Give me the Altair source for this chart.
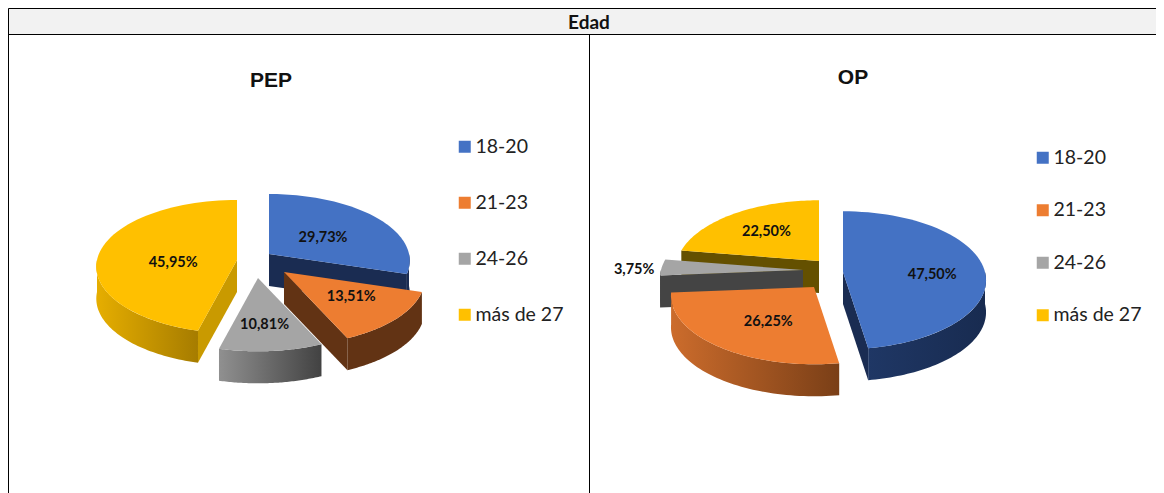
import math
import altair as alt
import pandas as pd

categories = ["18-20", "21-23", "24-26", "más de 27"]
colors = ["#4472C4", "#ED7D31", "#A5A5A5", "#FFC000"]
pep_values = [29.73, 13.51, 10.81, 45.95]
op_values = [47.50, 26.25, 3.75, 22.50]
pep_labels = ["29,73%", "13,51%", "10,81%", "45,95%"]
op_labels = ["47,50%", "26,25%", "3,75%", "22,50%"]
DEPTH = 32
X0, X1, Y0, Y1 = 8, 1156, 8, 493  # canvas span in picture coordinates


def solid(c):
    return (c, c)


PEP = dict(
    title="PEP", title_xy=(271, 81), rx=140, ry=66, p=0.1,
    values=pep_values, labels=pep_labels,
    apex=[(269, 254), (284, 272), (258, 278), (237, 260)],
    order=[0, 1, 2, 3],
    label_f=[(0.48, 0.46), (0.64, 0.53), (0.55, 0.68), (0.46, -0.12)],
    arc_wall=[solid("#1A2C52"), solid("#623314"), ("#909090", "#424242"), ("#E6AE00", "#A67C00")],
    edge_wall=["#1A2C52", "#623314", "#444444", "#C99A00"],
    legend_xy=(455, 137), row_pad=35,
)
OP = dict(
    title="OP", title_xy=(853, 78), rx=142, ry=68, p=0.12,
    values=op_values, labels=op_labels,
    apex=[(843, 272), (814, 287), (803, 270), (819, 261)],
    order=[3, 2, 1, 0],
    label_f=[(0.63, -0.2), (0.52, 0.62), (1.19, 0.8), (0.57, 0.6)],
    arc_wall=[("#1F3765", "#182B50"), ("#CC6C2C", "#7A3F17"), solid("#444444"), solid("#645000")],
    edge_wall=["#1A2C52", "#623314", "#444444", "#645000"],
    legend_xy=(1033, 148), row_pad=31.5,
)

xs = alt.X("x:Q", scale=alt.Scale(domain=[X0, X1], nice=False, zero=False), axis=None)
ys = alt.Y("y:Q", scale=alt.Scale(domain=[Y1, Y0], nice=False, zero=False), axis=None)


def proj(a, t, r, cfg):
    u, v = math.sin(t) * r, -math.cos(t) * r
    k = 1 / (1 - cfg["p"] * v)
    return a[0] + cfg["rx"] * u * k, a[1] + cfg["ry"] * v * k


def polygon_chart(pts, cfg, fill=None, cat=None):
    rows = [{"x": x, "y": y, "i": i, "cat": cat} for i, (x, y) in enumerate(pts + pts[:1])]
    if cat is None:
        return alt.Chart(pd.DataFrame(rows)).mark_line(fill=fill, strokeWidth=0, interpolate="linear").encode(
            x=xs, y=ys, order="i:Q")
    return alt.Chart(pd.DataFrame(rows)).mark_line(strokeWidth=0, interpolate="linear").encode(
        x=xs, y=ys, order="i:Q",
        fill=alt.Fill("cat:N", scale=alt.Scale(domain=categories, range=colors),
                      legend=alt.Legend(title=None, orient="none",
                                        legendX=cfg["legend_xy"][0] - X0,
                                        legendY=cfg["legend_xy"][1] - Y0,
                                        symbolType="square", symbolSize=144, symbolStrokeWidth=0,
                                        labelFont="Lato", labelFontSize=19.5, labelColor="#222222",
                                        labelOffset=1, rowPadding=cfg["row_pad"])))


def panel(cfg):
    layers = []
    total = sum(cfg["values"])
    edges = [0]
    for v in cfg["values"]:
        edges.append(edges[-1] + v / total * 2 * math.pi)
    for s in cfg["order"]:
        a, t0, t1 = cfg["apex"][s], edges[s], edges[s + 1]
        n = 60
        ang = [t0 + (t1 - t0) * i / n for i in range(n + 1)]
        arc = [proj(a, t, 1, cfg) for t in ang]
        # cut faces that look towards the viewer
        if -math.cos(t0 - math.pi / 2) > 0.02:
            c = arc[0]
            layers.append(polygon_chart([a, c, (c[0], c[1] + DEPTH), (a[0], a[1] + DEPTH)], cfg, fill=cfg["edge_wall"][s]))
        if -math.cos(t1 + math.pi / 2) > 0.02:
            c = arc[-1]
            layers.append(polygon_chart([a, c, (c[0], c[1] + DEPTH), (a[0], a[1] + DEPTH)], cfg, fill=cfg["edge_wall"][s]))
        # rim of the slice on the near half of the pie
        lo, hi = max(t0, math.pi / 2), min(t1, 3 * math.pi / 2)
        if hi > lo:
            vis = [proj(a, lo + (hi - lo) * i / n, 1, cfg) for i in range(n + 1)]
            rim = vis + [(x, y + DEPTH) for x, y in reversed(vis)]
            c0, c1 = cfg["arc_wall"][s]
            grad = alt.Gradient(gradient="linear", x1=0, x2=1, y1=0, y2=0,
                                stops=[alt.GradientStop(offset=0, color=c0), alt.GradientStop(offset=1, color=c1)])
            layers.append(polygon_chart(rim, cfg, fill=grad))
        layers.append(polygon_chart([a] + arc, cfg, cat=categories[s]))
    # slice labels
    rows = []
    for s in range(4):
        mid = (edges[s] + edges[s + 1]) / 2
        fu, fv = cfg["label_f"][s]
        rows.append({"x": cfg["apex"][s][0] + fu * cfg["rx"] * math.sin(mid),
                     "y": cfg["apex"][s][1] - fv * cfg["ry"] * math.cos(mid),
                     "t": cfg["labels"][s]})
    layers.append(alt.Chart(pd.DataFrame(rows)).mark_text(font="Lato", fontWeight="bold", fontSize=14.5, dy=2, color="#111111").encode(x=xs, y=ys, text="t:N"))
    tt = pd.DataFrame([{"x": cfg["title_xy"][0], "y": cfg["title_xy"][1], "t": cfg["title"]}])
    layers.append(alt.Chart(tt).mark_text(font="Liberation Sans", fontWeight="bold", fontSize=21, color="#111111").encode(x=xs, y=ys, text="t:N"))
    return alt.layer(*layers)


# table frame: the header row and the two cells
header_bg = alt.Chart(pd.DataFrame([{"x": 8, "x2": 1156, "y": 8, "y2": 34}])).mark_rect(color="#F2F2F2").encode(
    x=xs, x2="x2:Q", y=ys, y2="y2:Q")
frame = alt.Chart(pd.DataFrame([
    {"x": 8.5, "x2": 1156, "y": 8.5, "y2": 8.5},
    {"x": 8.5, "x2": 1156, "y": 34.5, "y2": 34.5},
    {"x": 8.5, "x2": 8.5, "y": 8.5, "y2": 493},
    {"x": 589.5, "x2": 589.5, "y": 34.5, "y2": 493},
])).mark_rule(color="#000000", strokeWidth=1, clip=True).encode(x=xs, x2="x2:Q", y=ys, y2="y2:Q")
header_text = alt.Chart(pd.DataFrame([{"x": 589, "y": 23, "t": "Edad"}])).mark_text(
    font="Lato", fontWeight="bold", fontSize=19, color="#111111").encode(x=xs, y=ys, text="t:N")

chart = alt.layer(
    header_bg, frame, header_text, panel(PEP), panel(OP)
).resolve_scale(fill="independent").properties(
    width=X1 - X0, height=Y1 - Y0, padding=0, background="white", view=alt.ViewConfig(stroke=None)
)

chart.save("out.html", embed_options={"renderer": "svg", "actions": False})
